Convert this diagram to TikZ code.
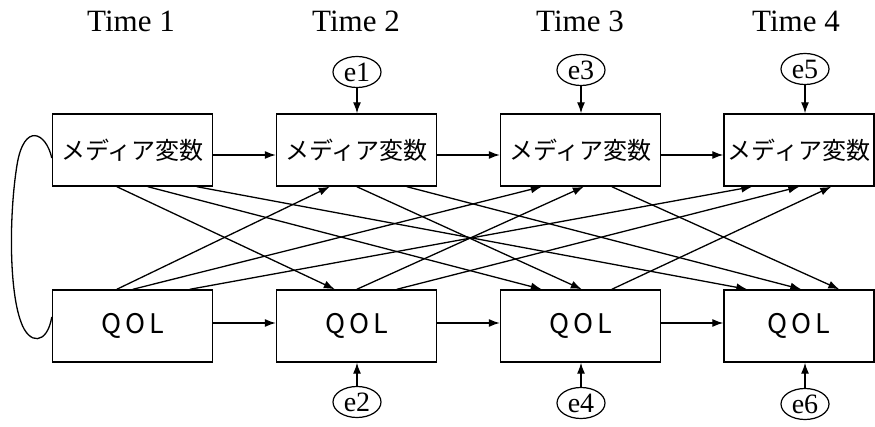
\documentclass[tikz,border=0pt]{standalone}
\usepackage{fontspec}
\setmainfont{Liberation Serif}
\newfontfamily\jpfont{Noto Sans CJK JP}
\usetikzlibrary{arrows.meta,shapes.geometric,calc}
\newcommand{\qoltext}{Q\hspace{4pt}O\hspace{4pt}L}
\begin{document}
\begin{tikzpicture}[x=1pt,y=-1pt,
  box/.style={draw,line width=1.4pt,minimum width=160pt,minimum height=72pt,inner sep=0pt,font=\jpfont\fontsize{24}{24}\selectfont},
  qbox/.style={box,font=\jpfont\fontsize{27}{27}\selectfont},
  err/.style={draw,ellipse,line width=1.2pt,minimum width=48pt,minimum height=31pt,inner sep=0pt,font=\fontsize{28}{28}\selectfont},
  tlabel/.style={font=\fontsize{31}{31}\selectfont,inner sep=0pt,anchor=base},
  arr/.style={line width=1.3pt,-{Latex[length=11pt,width=8pt]}},
  ln/.style={line width=1.3pt}]
\useasboundingbox (0,0) rectangle (875,427);
% time labels
\node[tlabel] (time1) at (131,32) {Time 1};
\node[tlabel] (time2) at (356,32) {Time 2};
\node[tlabel] (time3) at (580,32) {Time 3};
\node[tlabel] (time4) at (796,32) {Time 4};
% boxes
\node[box] (t1) at (132.5,150) {メディア変数};
\node[box] (t2) at (356.5,150) {メディア変数};
\node[box] (t3) at (580.5,150) {メディア変数};
\node[box,minimum width=150pt] (t4) at (799,150) {メディア変数};
\node[qbox] (q1) at (132.5,326) {\qoltext};
\node[qbox] (q2) at (356.5,326) {\qoltext};
\node[qbox] (q3) at (580.5,326) {\qoltext};
\node[qbox,minimum width=150pt] (q4) at (799,326) {\qoltext};
% errors
\node[err] (e1) at (357,72) {e1};
\node[err] (e3) at (581,70) {e3};
\node[err] (e5) at (805,69) {e5};
\node[err] (e2) at (357,402) {e2};
\node[err] (e4) at (581,403) {e4};
\node[err] (e6) at (805,404) {e6};
\draw[arr] (e1) -- (e1 |- t2.north);
\draw[arr] (e3) -- (e3 |- t3.north);
\draw[arr] (e5) -- (e5 |- t4.north);
\draw[arr] (e2) -- (e2 |- q2.south);
\draw[arr] (e4) -- (e4 |- q3.south);
\draw[arr] (e6) -- (e6 |- q4.south);
% horizontal arrows
\draw[arr] ($(t1.east)+(0,5)$) -- ($(t2.west)+(0,5)$);
\draw[arr] ($(t2.east)+(0,5)$) -- ($(t3.west)+(0,5)$);
\draw[arr] ($(t3.east)+(0,5)$) -- ($(t4.west)+(0,5)$);
\draw[arr] ($(q1.east)+(0,-3)$) -- ($(q2.west)+(0,-3)$);
\draw[arr] ($(q2.east)+(0,-3)$) -- ($(q3.west)+(0,-3)$);
\draw[arr] ($(q3.east)+(0,-3)$) -- ($(q4.west)+(0,-3)$);
% cross-lagged: media -> QOL
\draw[arr] ($(t1.south west)+(65,0)$) -- ($(q2.north west)+(59,0)$);
\draw[arr] ($(t1.south west)+(96,0)$) -- ($(q3.north west)+(42,0)$);
\draw[arr] ($(t1.south west)+(145,0)$) -- ($(q4.north west)+(24,0)$);
\draw[arr] ($(t2.south west)+(81,0)$) -- ($(q3.north west)+(82,0)$);
\draw[arr] ($(t2.south west)+(131,0)$) -- ($(q4.north west)+(78,0)$);
\draw[arr] ($(t3.south west)+(112,0)$) -- ($(q4.north west)+(116,0)$);
% cross-lagged: QOL -> media
\draw[arr] ($(q1.north west)+(65,0)$) -- ($(t2.south west)+(54,0)$);
\draw[arr] ($(q1.north west)+(81,0)$) -- ($(t3.south west)+(42,0)$);
\draw[arr] ($(q1.north west)+(138,0)$) -- ($(t4.south west)+(29,0)$);
\draw[arr] ($(q2.north west)+(81,0)$) -- ($(t3.south west)+(84,0)$);
\draw[arr] ($(q2.north west)+(121,0)$) -- ($(t4.south west)+(76,0)$);
\draw[arr] ($(q3.north west)+(112,0)$) -- ($(t4.south west)+(108,0)$);
% covariance loop
\draw[ln] ($(t1.west)+(0,8)$) .. controls (46,132) and (24,122) .. (17,165)
  .. controls (9,215) and (9,290) .. (21,322)
  .. controls (29,345) and (47,345) .. ($(q1.west)+(0,-9)$);
\end{tikzpicture}
\end{document}
